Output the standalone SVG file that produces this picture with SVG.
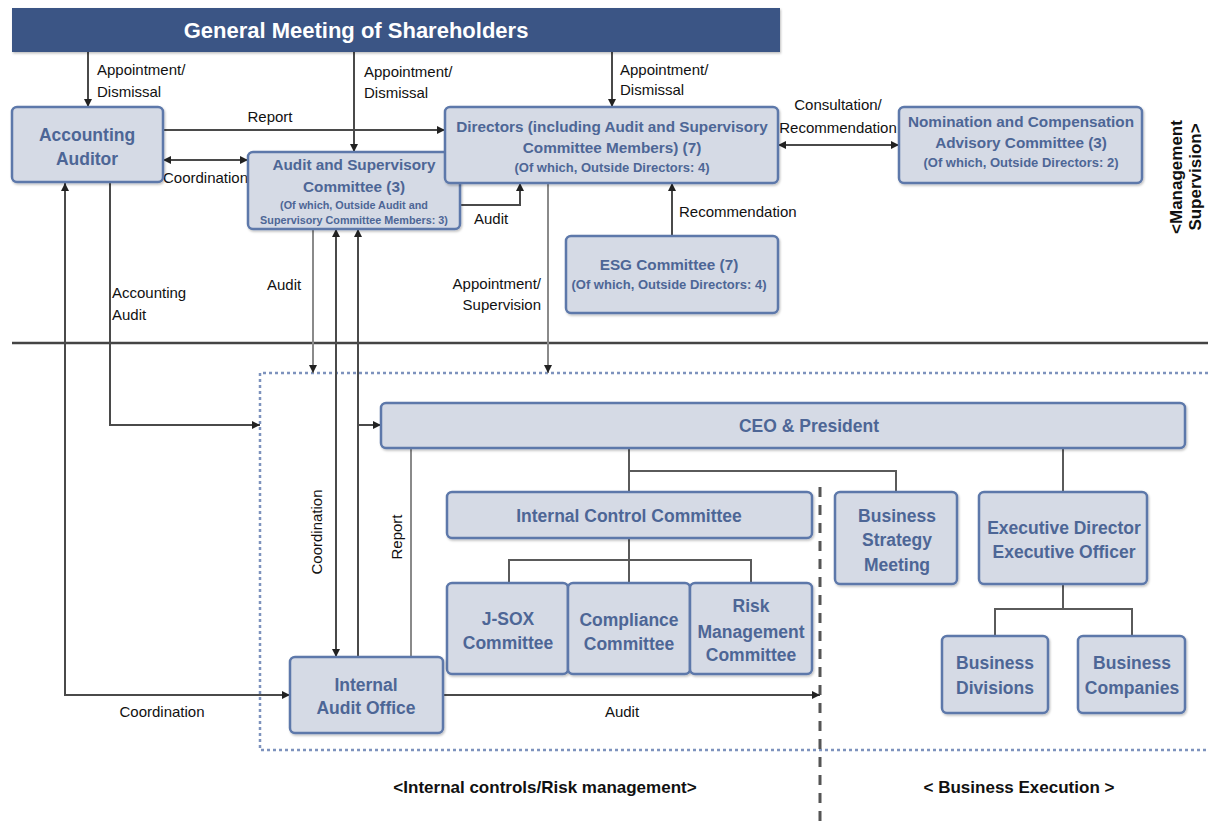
<svg xmlns="http://www.w3.org/2000/svg" width="1208" height="827" viewBox="0 0 1208 827">
<style>
.box{fill:#d5dae5;stroke:#5d78aa;stroke-width:2.5}
.bt{font-family:"Liberation Sans",Arial,sans-serif;font-weight:bold;fill:#4d6696;text-anchor:middle}
.b17{font-size:17.5px}
.b15{font-size:15.3px}
.b13{font-size:13px}
.b11{font-size:10.8px}
.lb{font-family:"Liberation Sans",Arial,sans-serif;font-size:15px;fill:#111}
.ln{fill:none;stroke:#4a4a4a;stroke-width:2}
.lt{fill:none;stroke:#8a8a8a;stroke-width:2}
.tr{fill:none;stroke:#5a5a5a;stroke-width:2}
.hd{font-family:"Liberation Sans",Arial,sans-serif;font-weight:bold;font-size:17px;fill:#111;text-anchor:middle}
</style>
<defs>
<marker id="ah" viewBox="0 0 10 10" refX="10" refY="5" markerWidth="8" markerHeight="8" markerUnits="userSpaceOnUse" orient="auto-start-reverse">
<path d="M0,0 L10,5 L0,10 z" fill="#222"/>
</marker>
<filter id="sh" x="-5%" y="-5%" width="110%" height="120%">
<feDropShadow dx="1" dy="1.5" stdDeviation="1.2" flood-color="#000" flood-opacity="0.25"/>
</filter>
</defs>
<rect width="1208" height="827" fill="#fff"/>

<!-- region markers -->
<g id="regions">
<line x1="12" y1="343" x2="1208" y2="343" stroke="#444" stroke-width="2.5"/>
<path d="M1208,373 H260 V750 H1208" fill="none" stroke="#7d92bd" stroke-width="2.5" stroke-dasharray="3 3"/>
<line x1="820" y1="487" x2="820" y2="827" stroke="#555" stroke-width="3" stroke-dasharray="10 8"/>
<text class="hd" x="545" y="793">&lt;Internal controls/Risk management&gt;</text>
<text class="hd" x="1019" y="793">&lt; Business Execution &gt;</text>
<text class="hd" font-size="16" transform="translate(1182,177) rotate(-90)">&lt;Management</text>
<text class="hd" font-size="16" transform="translate(1201,177) rotate(-90)">Supervision&gt;</text>
</g>

<g id="connectors">
<path class="ln" d="M88,52 V107" marker-end="url(#ah)"/>
<path class="ln" d="M354,52 V152" marker-end="url(#ah)"/>
<path class="ln" d="M612,52 V107" marker-end="url(#ah)"/>
<path class="ln" d="M163,130 H445" marker-end="url(#ah)"/>
<path class="ln" d="M163,160 H248" marker-start="url(#ah)" marker-end="url(#ah)"/>
<path class="ln" d="M460,205 H520 V183" marker-end="url(#ah)"/>
<path class="ln" d="M778,145 H899" marker-start="url(#ah)" marker-end="url(#ah)"/>
<path class="ln" d="M672,236 V183" marker-end="url(#ah)"/>
<path class="lt" d="M548,183 V373" marker-end="url(#ah)"/>
<path class="lt" d="M313,229 V373" marker-end="url(#ah)"/>
<path class="ln" d="M336,229 V657" marker-start="url(#ah)" marker-end="url(#ah)"/>
<path class="ln" d="M358,657 V229" marker-end="url(#ah)"/>
<path class="ln" d="M358,425 H381" marker-end="url(#ah)"/>
<path class="lt" d="M411,448 V657"/>
<path class="ln" d="M110,183 V425 H260" marker-end="url(#ah)"/>
<path class="ln" d="M65,183 V695 H290" marker-start="url(#ah)" marker-end="url(#ah)"/>
<path class="ln" d="M443,695 H820" marker-end="url(#ah)"/>
<path class="tr" d="M629,448 V492 M629,471 H896 V492 M1063,448 V492"/>
<path class="tr" d="M629,538 V583 M509,583 V560 H751 V583"/>
<path class="tr" d="M1063,584 V609 M995,636 V609 H1132 V636"/>
<text class="lb" x="97" y="75">Appointment/</text>
<text class="lb" x="97" y="97">Dismissal</text>
<text class="lb" x="364" y="77">Appointment/</text>
<text class="lb" x="364" y="98">Dismissal</text>
<text class="lb" x="620" y="75">Appointment/</text>
<text class="lb" x="620" y="95">Dismissal</text>
<text class="lb" x="270" y="122" text-anchor="middle">Report</text>
<text class="lb" x="163" y="183">Coordination</text>
<text class="lb" x="474" y="224">Audit</text>
<text class="lb" x="679" y="217">Recommendation</text>
<text class="lb" x="838" y="110" text-anchor="middle">Consultation/</text>
<text class="lb" x="838" y="133" text-anchor="middle">Recommendation</text>
<text class="lb" x="112" y="298">Accounting</text>
<text class="lb" x="112" y="320">Audit</text>
<text class="lb" x="267" y="290">Audit</text>
<text class="lb" x="541" y="289" text-anchor="end">Appointment/</text>
<text class="lb" x="541" y="310" text-anchor="end">Supervision</text>
<text class="lb" text-anchor="middle" transform="translate(322,532) rotate(-90)">Coordination</text>
<text class="lb" text-anchor="middle" transform="translate(402,537) rotate(-90)">Report</text>
<text class="lb" x="162" y="717" text-anchor="middle">Coordination</text>
<text class="lb" x="622" y="717" text-anchor="middle">Audit</text>
</g>

<g id="gms">
<rect x="12" y="8" width="768" height="44" fill="#3b5585" filter="url(#sh)"/>
<text x="356" y="38" font-family="Liberation Sans,Arial,sans-serif" font-weight="bold" font-size="22" fill="#fff" text-anchor="middle">General Meeting of Shareholders</text>
</g>

<g id="accounting-auditor">
<rect class="box" x="12" y="107" width="151" height="75" rx="5" filter="url(#sh)"/>
<text class="bt b17" x="87" y="141">Accounting</text>
<text class="bt b17" x="87" y="165">Auditor</text>
</g>

<g id="audit-supervisory-committee">
<rect class="box" x="248" y="152" width="212" height="77" rx="5" filter="url(#sh)"/>
<text class="bt b15" x="354" y="170">Audit and Supervisory</text>
<text class="bt b15" x="354" y="192">Committee (3)</text>
<text class="bt b11" x="354" y="209">(Of which, Outside Audit and</text>
<text class="bt b11" x="354" y="224">Supervisory Committee Members: 3)</text>
</g>

<g id="directors">
<rect class="box" x="445" y="107" width="333" height="76" rx="5" filter="url(#sh)"/>
<text class="bt b15" x="612" y="132">Directors (including Audit and Supervisory</text>
<text class="bt b15" x="612" y="153">Committee Members) (7)</text>
<text class="bt b13" x="612" y="172">(Of which, Outside Directors: 4)</text>
</g>

<g id="nomination-committee">
<rect class="box" x="899" y="107" width="243" height="76" rx="5" filter="url(#sh)"/>
<text class="bt b15" x="1021" y="127">Nomination and Compensation</text>
<text class="bt b15" x="1021" y="148">Advisory Committee (3)</text>
<text class="bt b13" x="1021" y="167">(Of which, Outside Directors: 2)</text>
</g>

<g id="esg-committee">
<rect class="box" x="566" y="236" width="212" height="77" rx="5" filter="url(#sh)"/>
<text class="bt b15" x="669" y="270">ESG Committee (7)</text>
<text class="bt b13" x="669" y="289">(Of which, Outside Directors: 4)</text>
</g>

<g id="ceo">
<rect class="box" x="381" y="403" width="804" height="45" rx="5" filter="url(#sh)"/>
<text class="bt b17" x="809" y="432">CEO &amp; President</text>
</g>

<g id="internal-control-committee">
<rect class="box" x="447" y="492" width="365" height="46" rx="5" filter="url(#sh)"/>
<text class="bt b17" x="629" y="522">Internal Control Committee</text>
</g>

<g id="jsox-committee">
<rect class="box" x="447" y="583" width="121" height="91" rx="5" filter="url(#sh)"/>
<text class="bt b17" x="508" y="625">J-SOX</text>
<text class="bt b17" x="508" y="649">Committee</text>
</g>

<g id="compliance-committee">
<rect class="box" x="568" y="583" width="122" height="91" rx="5" filter="url(#sh)"/>
<text class="bt b17" x="629" y="626">Compliance</text>
<text class="bt b17" x="629" y="650">Committee</text>
</g>

<g id="risk-committee">
<rect class="box" x="690" y="583" width="122" height="91" rx="5" filter="url(#sh)"/>
<text class="bt b17" x="751" y="612">Risk</text>
<text class="bt b17" x="751" y="638">Management</text>
<text class="bt b17" x="751" y="661">Committee</text>
</g>

<g id="business-strategy-meeting">
<rect class="box" x="835" y="492" width="122" height="92" rx="5" filter="url(#sh)"/>
<text class="bt b17" x="897" y="522">Business</text>
<text class="bt b17" x="897" y="546">Strategy</text>
<text class="bt b17" x="897" y="571">Meeting</text>
</g>

<g id="executive-director">
<rect class="box" x="979" y="492" width="168" height="92" rx="5" filter="url(#sh)"/>
<text class="bt b17" x="1064" y="534">Executive Director</text>
<text class="bt b17" x="1064" y="558">Executive Officer</text>
</g>

<g id="business-divisions">
<rect class="box" x="942" y="636" width="106" height="77" rx="5" filter="url(#sh)"/>
<text class="bt b17" x="995" y="669">Business</text>
<text class="bt b17" x="995" y="694">Divisions</text>
</g>

<g id="business-companies">
<rect class="box" x="1078" y="636" width="107" height="77" rx="5" filter="url(#sh)"/>
<text class="bt b17" x="1132" y="669">Business</text>
<text class="bt b17" x="1132" y="694">Companies</text>
</g>

<g id="internal-audit-office">
<rect class="box" x="290" y="657" width="153" height="76" rx="5" filter="url(#sh)"/>
<text class="bt b17" x="366" y="691">Internal</text>
<text class="bt b17" x="366" y="714">Audit Office</text>
</g>
</svg>
